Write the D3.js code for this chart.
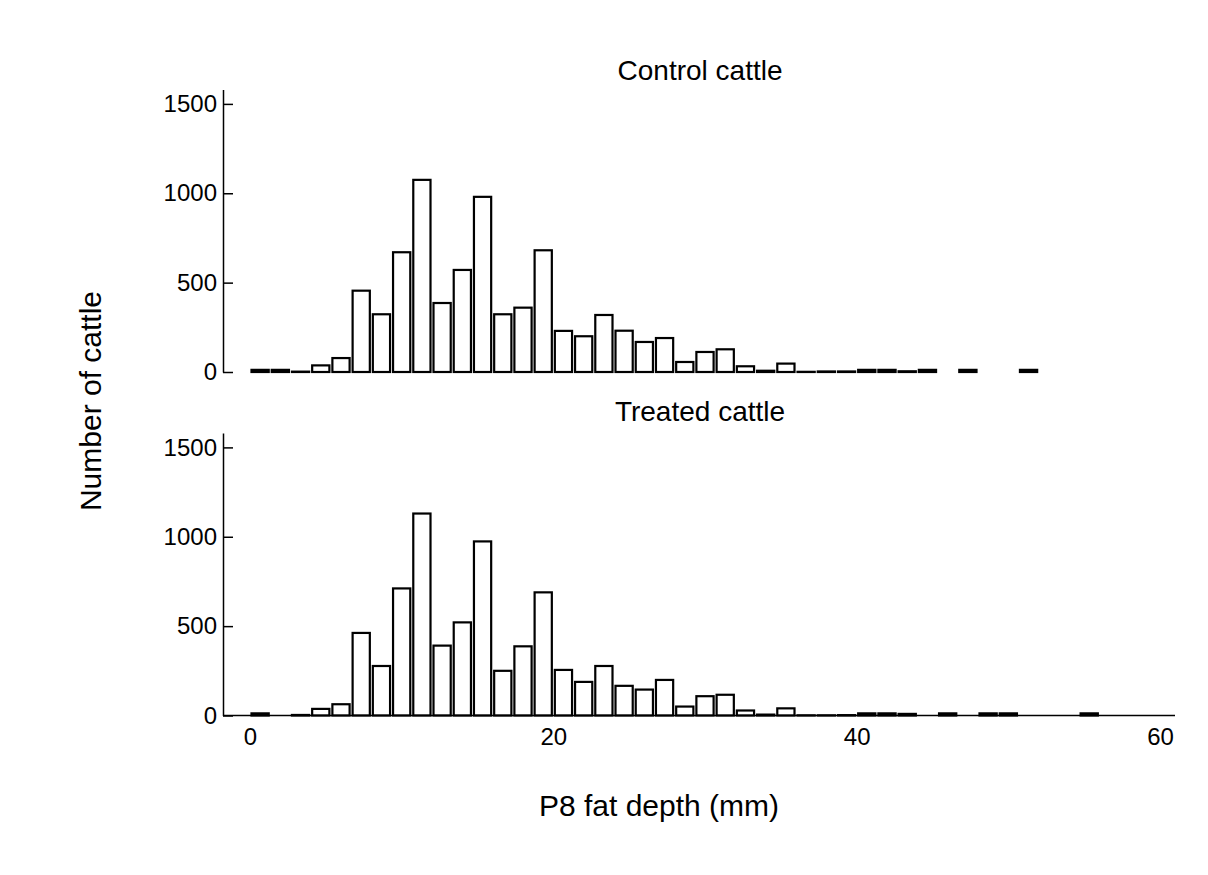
<!DOCTYPE html>
<html>
<head>
<meta charset="utf-8">
<script src="https://cdn.jsdelivr.net/npm/d3@7"></script>
<style>
  body { margin: 0; background: #fff; }
  text { font-family: "Liberation Sans", Arial, sans-serif; fill: #000; }
</style>
</head>
<body>
<svg id="chart" width="1208" height="875"></svg>
<script>
// bins are 4/3 mm wide, starting at 0 mm
const binWidth = 4 / 3;

const controlCounts = [12, 12, 2, 37, 78, 455, 323, 670, 1075, 386, 571, 980, 323, 360, 681,
    230, 200, 319, 231, 168, 190, 56, 112, 127, 32, 7, 47, 1, 3, 3, 12, 12, 4, 12, 0, 12, 0, 0, 12];

const treatedCounts = [12, 0, 3, 37, 63, 462, 277, 711, 1130, 391, 521, 974, 250, 387, 689,
    255, 188, 277, 166, 145, 199, 50, 108, 116, 28, 5, 40, 1, 1, 2, 12, 12, 9, 0, 12, 0, 12, 12, 0, 0, 0, 12];

const yTicks = [0, 500, 1000, 1500];
const xTicks = [0, 20, 40, 60];

const svg = d3.select("#chart");

// x scale shared by both panels
const x = d3.scaleLinear().domain([0, 60]).range([250, 1160]);
const axisX = 223;

function toBins(counts) {
    return counts.map((c, i) => ({ x0: i * binWidth, x1: (i + 1) * binWidth, n: c }))
        .filter(d => d.n > 0);
}

function drawPanel(counts, bottomY, title, titleY, withBaseline) {
    const y = d3.scaleLinear().domain([0, 1580]).range([bottomY, bottomY - 282.4]);
    const g = svg.append("g");

    // bars
    g.selectAll("rect")
        .data(toBins(counts))
        .enter()
        .append("rect")
        .attr("x", d => x(d.x0) + 1.5)
        .attr("width", d => x(d.x1) - x(d.x0) - 3)
        .attr("y", d => y(d.n))
        .attr("height", d => y(0) - y(d.n))
        .style("fill", "#fff")
        .style("stroke", "#000")
        .style("stroke-width", 2.2);

    if (withBaseline) {
        g.append("line")
            .attr("x1", axisX).attr("x2", 1175)
            .attr("y1", y(0)).attr("y2", y(0))
            .style("stroke", "#000")
            .style("stroke-width", 1.5);
    }

    // y axis, ticks point inward
    const yAxis = d3.axisLeft(y)
        .tickValues(yTicks)
        .tickFormat(d3.format("d"))
        .tickSize(-10)
        .tickSizeOuter(0)
        .tickPadding(6);

    const ga = g.append("g")
        .attr("transform", `translate(${axisX},0)`)
        .call(yAxis);
    ga.select(".domain").style("stroke", "#000").style("stroke-width", 1.5);
    ga.selectAll(".tick line").style("stroke", "#000").style("stroke-width", 1.5);
    ga.selectAll("text").style("font-size", "24px").style("font-family", "Liberation Sans, Arial, sans-serif");

    g.append("text")
        .attr("x", 700)
        .attr("y", titleY)
        .attr("text-anchor", "middle")
        .style("font-size", "28px")
        .text(title);

    return y;
}

drawPanel(controlCounts, 372, "Control cattle", 80, false);
const yBottom = drawPanel(treatedCounts, 715.5, "Treated cattle", 421, true);

// x axis labels (no tick marks)
const xAxis = d3.axisBottom(x).tickValues(xTicks).tickSize(0).tickPadding(12);
const gx = svg.append("g")
    .attr("transform", `translate(0,${yBottom(0)})`)
    .call(xAxis);
gx.select(".domain").remove();
gx.selectAll("text").style("font-size", "24px").style("font-family", "Liberation Sans, Arial, sans-serif");

svg.append("text")
    .attr("x", 659)
    .attr("y", 816)
    .attr("text-anchor", "middle")
    .style("font-size", "30px")
    .text("P8 fat depth (mm)");

svg.append("text")
    .attr("transform", "translate(101,401) rotate(-90)")
    .attr("text-anchor", "middle")
    .style("font-size", "30px")
    .text("Number of cattle");
</script>
</body>
</html>
